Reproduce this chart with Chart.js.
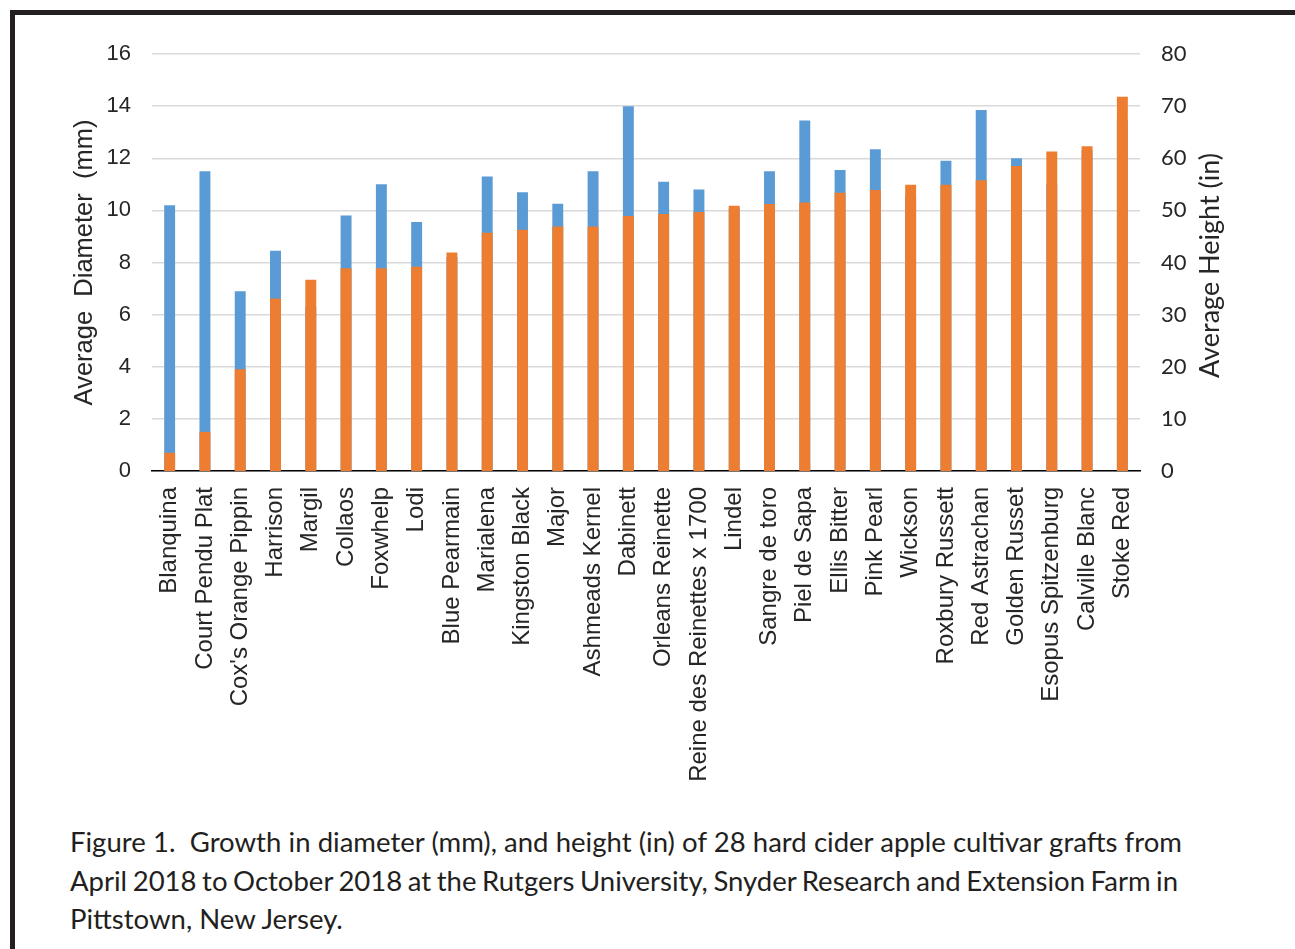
<!DOCTYPE html>
<html>
<head>
<meta charset="utf-8">
<script src="https://cdn.jsdelivr.net/npm/chart.js@4.4.1/dist/chart.umd.min.js"></script>
<style>
  html, body { margin: 0; padding: 0; background: #fff; }
  body { width: 1295px; height: 949px; position: relative; overflow: hidden; }
  #frame {
    position: absolute; left: 10px; top: 10px; width: 1400px; height: 1000px;
    border-top: 5px solid #231f20; border-left: 5px solid #231f20;
  }
  #myChart { position: absolute; left: 0; top: 0; }
  #caption {
    position: absolute; left: 70px; top: 823px;
    font-family: Lato, "Open Sans", sans-serif; color: #231f20;
    line-height: 38.5px; white-space: nowrap;
  }
  #caption span { display: inline-block; }
</style>
</head>
<body>
<div id="frame"></div>
<canvas id="myChart" width="1295" height="800"></canvas>
<div id="caption"><span>Figure 1.&nbsp; Growth in diameter (mm), and height (in) of 28 hard cider apple cultivar grafts from</span><br><span>April 2018 to October 2018 at the Rutgers University, Snyder Research and Extension Farm in</span><br><span>Pittstown, New Jersey.</span></div>
<script>
// data
const cultivars = [
  "Blanquina", "Court Pendu Plat", "Cox's Orange Pippin", "Harrison", "Margil",
  "Collaos", "Foxwhelp", "Lodi", "Blue Pearmain", "Marialena", "Kingston Black",
  "Major", "Ashmeads Kernel", "Dabinett", "Orleans Reinette",
  "Reine des Reinettes x 1700", "Lindel", "Sangre de toro", "Piel de Sapa",
  "Ellis Bitter", "Pink Pearl", "Wickson", "Roxbury Russett", "Red Astrachan",
  "Golden Russet", "Esopus Spitzenburg", "Calville Blanc", "Stoke Red",
];
const diameterMm = [
  10.2, 11.5, 6.9, 8.45, 6.3, 9.8, 11.0, 9.55, 8.2, 11.3, 10.7, 10.25, 11.5, 14.0,
  11.1, 10.8, 10.1, 11.5, 13.45, 11.55, 12.35, 10.55, 11.9, 13.85, 12.0, 11.0, 12.3, 13.45,
];
const heightIn = [
  3.5, 7.5, 19.5, 33.1, 36.7, 38.9, 38.9, 39.2, 41.9, 45.7, 46.3, 46.9, 46.9, 48.9,
  49.3, 49.7, 50.9, 51.2, 51.5, 53.4, 53.9, 54.9, 54.9, 55.8, 58.5, 61.3, 62.3, 71.8,
];
const diameterTicks = { min: 0, max: 16, step: 2 };
const heightTicks = { min: 0, max: 80, step: 10 };

// caption: size from first line, then word spacing on line 2 to match the figure
(function fitCaption() {
  const cap = document.getElementById("caption");
  const lines = cap.querySelectorAll("span");
  const targets = [1112, 1108, null];
  const c = document.createElement("canvas").getContext("2d");
  c.font = "100px Lato";
  const w = c.measureText(lines[0].textContent).width;
  cap.style.fontSize = (100 * targets[0] / w).toFixed(2) + "px";
  lines.forEach((el, i) => {
    if (!targets[i]) return;
    const spaces = (el.textContent.match(/[ \u00a0]/g) || []).length;
    const diff = targets[i] - el.getBoundingClientRect().width;
    if (spaces) el.style.wordSpacing = (diff / spaces).toFixed(2) + "px";
  });
})();

const textColor = "#262626";

// right axis title reads bottom-to-top, so draw it here
const rightTitle = {
  id: "rightTitle",
  afterDraw(chart) {
    const { ctx } = chart;
    const s = chart.scales.y1;
    ctx.save();
    ctx.translate(s.left + 70, (s.top + s.bottom) / 2 + 3);
    ctx.rotate(-Math.PI / 2);
    ctx.font = "27px Lato";
    ctx.fillStyle = textColor;
    ctx.textAlign = "center";
    ctx.textBaseline = "middle";
    ctx.fillText("Average Height (in)", 0, 0);
    ctx.restore();
  },
};

const config = {
  type: "bar",
  data: {
    labels: cultivars,
    datasets: [
      {
        label: "Average Height (in)",
        data: heightIn,
        yAxisID: "y1",
        backgroundColor: "#ed7d31",
        order: 1,
      },
      {
        label: "Average Diameter (mm)",
        data: diameterMm,
        yAxisID: "y",
        backgroundColor: "#5b9bd5",
        order: 2,
      },
    ],
  },
  options: {
    responsive: false,
    animation: false,
    devicePixelRatio: 1,
    layout: { padding: { top: 54, left: 0, right: 0, bottom: 0 } },
    datasets: { bar: { grouped: false, categoryPercentage: 1, barPercentage: 0.31 } },
    plugins: { legend: { display: false }, tooltip: { enabled: false } },
    scales: {
      x: {
        grid: { display: false, drawTicks: false },
        border: { display: true, color: "#000", width: 1.5 },
        ticks: {
          autoSkip: false, minRotation: 90, maxRotation: 90, padding: 16,
          color: textColor, font: { family: "Liberation Sans", size: 24 },
        },
        afterFit(scale) { scale.height = 329; },
      },
      y: {
        position: "left",
        min: diameterTicks.min, max: diameterTicks.max,
        grid: { color: "#d9d9d9", lineWidth: 1.5, drawTicks: false },
        border: { display: false },
        ticks: {
          stepSize: diameterTicks.step, padding: 21,
          color: textColor, font: { family: "Liberation Sans", size: 22 },
        },
        title: {
          display: true, text: "Average  Diameter  (mm)", color: textColor,
          font: { family: "Liberation Sans", size: 25.5 }, padding: { top: 70 },
        },
        afterFit(scale) { scale.width = 152; },
      },
      y1: {
        position: "right",
        min: heightTicks.min, max: heightTicks.max,
        grid: { display: false, drawTicks: false },
        border: { display: false },
        ticks: {
          stepSize: heightTicks.step, padding: 21,
          color: textColor, font: { family: "Lato", size: 22 },
        },
        afterFit(scale) { scale.width = 155; },
      },
    },
  },
  plugins: [rightTitle],
};

const myChart = new Chart(document.getElementById("myChart"), config);
</script>
</body>
</html>
